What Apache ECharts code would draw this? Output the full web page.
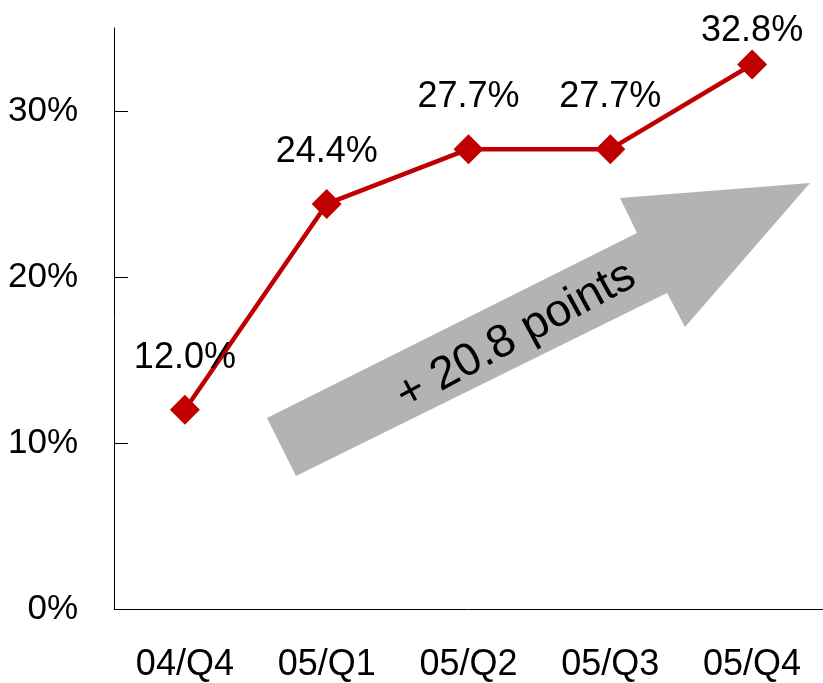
<!DOCTYPE html>
<html>
<head>
<meta charset="utf-8">
<script src="https://cdn.jsdelivr.net/npm/echarts@6/dist/echarts.min.js"></script>
<style>
  html, body { margin: 0; padding: 0; background: #ffffff; }
  #chart { width: 823px; height: 683px; }
</style>
</head>
<body>
<div id="chart"></div>
<script>
// Quarterly share, in percent
const quarters = ['04/Q4', '05/Q1', '05/Q2', '05/Q3', '05/Q4'];
const shareValues = [12.0, 24.4, 27.7, 27.7, 32.8];
const yTickValues = [0, 10, 20, 30];
const growthNote = '+ 20.8 points';

const plainFont = '"Liberation Sans", Arial, sans-serif';
const lineRed = '#C00000';

const chart = echarts.init(document.getElementById('chart'), null, { renderer: 'canvas' });

// the last label sits closer to its point so it stays inside the canvas
const seriesData = shareValues.map((v, i) => ({
  value: v,
  label: { distance: i === shareValues.length - 1 ? 0 : 19 }
}));

chart.setOption({
  animation: false,
  backgroundColor: '#ffffff',
  grid: { left: 114, top: 28, width: 710, bottom: 73, containLabel: false },
  xAxis: {
    type: 'category',
    data: quarters,
    boundaryGap: true,
    axisLine: { lineStyle: { color: '#000', width: 1 } },
    axisTick: { inside: true, length: 12, interval: 0, lineStyle: { color: '#000', width: 1 } },
    axisLabel: {
      interval: 0,
      margin: 38,
      color: '#000',
      fontFamily: plainFont,
      fontSize: 36
    },
    splitLine: { show: false }
  },
  yAxis: {
    type: 'value',
    min: 0,
    max: 35,
    interval: 10,
    axisLine: { show: true, lineStyle: { color: '#000', width: 1 } },
    axisTick: {
      show: true, inside: true, length: 14,
      customValues: yTickValues,
      lineStyle: { color: '#000', width: 1 }
    },
    axisLabel: {
      customValues: yTickValues,
      margin: 36,
      padding: [6, 0, 0, 0],
      color: '#000',
      fontFamily: plainFont,
      fontSize: 35,
      formatter: v => v + '%'
    },
    splitLine: { show: false }
  },
  graphic: [
    {
      type: 'polygon',
      z: 1,
      shape: {
        points: [
          [267, 418], [637, 233], [620, 198], [810, 183],
          [685, 327], [667, 293], [296, 476]
        ]
      },
      style: { fill: '#B3B3B3' }
    },
    {
      type: 'text',
      z: 2,
      x: 516,
      y: 336,
      rotation: 28.5 * Math.PI / 180,
      style: {
        text: growthNote,
        fill: '#000',
        font: '46px ' + plainFont,
        align: 'center',
        verticalAlign: 'middle'
      }
    }
  ],
  series: [
    {
      type: 'line',
      data: seriesData,
      z: 5,
      symbol: 'diamond',
      symbolSize: 30,
      lineStyle: { color: lineRed, width: 4.5 },
      itemStyle: { color: lineRed },
      label: {
        show: true,
        position: 'top',
        color: '#000',
        fontFamily: plainFont,
        fontSize: 36,
        formatter: p => p.value.toFixed(1) + '%'
      }
    }
  ]
});
</script>
</body>
</html>
